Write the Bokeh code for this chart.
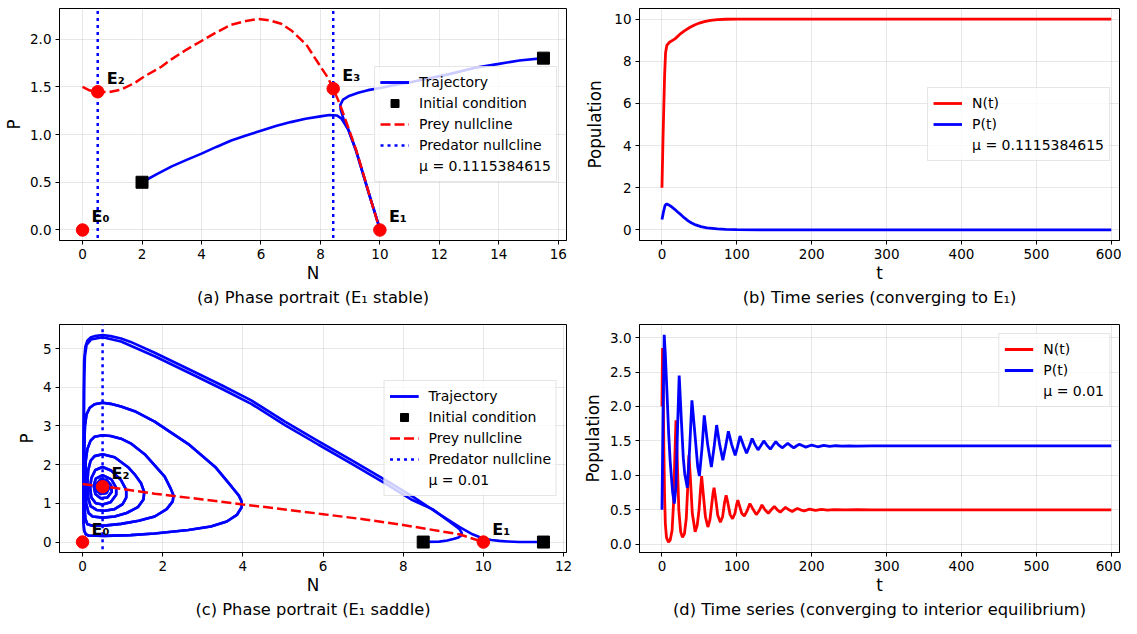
from bokeh.plotting import figure
from bokeh.layouts import row, column
from bokeh.models import Range1d, FixedTicker, Legend, LegendItem, Title, NumeralTickFormatter
from bokeh.core.properties import value
from bokeh.embed import file_html
from bokeh.resources import INLINE

FONT = "DejaVu Sans"
BLUE = "#0000ff"
RED = "#ff0000"

# ---------------- (a) phase portrait, E1 stable ----------------
a_prey_N = [0.0, 0.25, 0.51, 0.9, 1.3, 1.75, 2.09, 2.65, 3.0, 3.5, 4.0, 4.5, 5.0, 5.5, 5.9, 6.3, 6.68,
            7.02, 7.53, 7.86, 8.26, 8.43, 8.65, 8.94, 9.2, 9.44, 9.7, 10.0]
a_prey_P = [1.50, 1.46, 1.448, 1.445, 1.47, 1.54, 1.61, 1.71, 1.79, 1.89, 1.98, 2.07, 2.15, 2.19, 2.21,
            2.195, 2.16, 2.09, 1.94, 1.78, 1.59, 1.48, 1.32, 1.07, 0.84, 0.59, 0.31, 0.0]
a_traj1_N = [2.0, 2.5, 3.0, 3.5, 4.0, 4.5, 5.0, 5.5, 6.0, 6.5, 7.0, 7.5, 8.0, 8.3, 8.55, 8.7, 8.8, 8.94,
             9.2, 9.44, 9.7, 10.0]
a_traj1_P = [0.5, 0.585, 0.667, 0.735, 0.80, 0.87, 0.937, 0.99, 1.04, 1.09, 1.13, 1.165, 1.19, 1.205, 1.2,
             1.17, 1.12, 1.05, 0.83, 0.58, 0.31, 0.01]
a_traj2_N = [15.5, 14.69, 14.0, 13.2, 12.3, 11.5, 11.07, 10.5, 10.06, 9.6, 9.27, 8.94, 8.76, 8.67, 8.68,
             8.8, 8.94, 9.2, 9.44, 9.7, 10.0]
a_traj2_P = [1.8, 1.776, 1.74, 1.70, 1.63, 1.58, 1.55, 1.52, 1.49, 1.465, 1.437, 1.40, 1.366, 1.31, 1.26,
             1.14, 1.05, 0.83, 0.58, 0.31, 0.01]
a_init_N = [2.0, 15.5]
a_init_P = [0.5, 1.8]
a_pred_null_N = [0.51, 8.43]
a_eq_N = [0.0, 10.0, 0.51, 8.43]
a_eq_P = [0.0, 0.0, 1.448, 1.48]
a_eq_lab = ["E₀", "E₁", "E₂", "E₃"]
a_mu = "μ = 0.1115384615"

# ---------------- (b) time series, converging to E1 ----------------
b_tN = [0, 1.3, 3.5, 4.8, 6.5, 10, 17.4, 24, 30.5, 37, 43.5, 50, 56.6, 65, 74, 85, 100, 600]
b_N = [2.0, 4.2, 7.3, 8.4, 8.75, 8.9, 9.06, 9.28, 9.45, 9.6, 9.72, 9.81, 9.88, 9.94, 9.97, 9.99, 10.0, 10.0]
b_tP = [0, 2, 4, 5.5, 7, 10, 13, 17, 21, 26, 30, 35, 39, 45, 52, 60, 74, 85, 100, 130, 600]
b_P = [0.5, 0.85, 1.15, 1.22, 1.22, 1.17, 1.09, 0.98, 0.85, 0.70, 0.57, 0.43, 0.34, 0.24, 0.16, 0.10,
       0.05, 0.03, 0.015, 0.005, 0.0]

# ---------------- (c) phase portrait, E1 saddle ----------------
c_traj1_N = [11.5, 11.2, 10.89, 10.6, 10.4, 10.2, 10.07, 9.9, 9.73, 9.4, 8.9, 8.23, 7.56, 6.72, 5.88, 5.05,
             4.21, 3.47, 2.64, 1.8, 1.2, 0.96, 0.7, 0.5, 0.3, 0.21, 0.12, 0.07, 0.04, 0.03, 0.025, 0.02,
             0.02, 0.025, 0.04, 0.08, 0.15, 0.54, 1.2, 1.8, 2.64, 3.2, 3.6, 3.85, 3.97, 3.97, 3.9, 3.72,
             3.31, 2.64, 1.8, 1.3, 0.96, 0.7, 0.5, 0.3, 0.18, 0.1, 0.06, 0.04, 0.04, 0.05, 0.07, 0.12,
             0.25, 0.6, 0.96, 1.4, 1.8, 2.1, 2.25, 2.27, 2.2, 2.05, 1.8, 1.55, 1.2, 0.96, 0.7, 0.5, 0.3,
             0.2, 0.12, 0.08, 0.07, 0.09, 0.15, 0.25, 0.5, 0.8, 1.1, 1.38, 1.52, 1.54, 1.46, 1.3, 1.13,
             0.8, 0.5, 0.3, 0.2, 0.14, 0.12, 0.14, 0.2, 0.35, 0.55, 0.8, 1.0, 1.09, 1.09, 0.96, 0.71, 0.5,
             0.32, 0.22, 0.19, 0.22, 0.33, 0.5, 0.7, 0.84, 0.84, 0.72, 0.5, 0.33, 0.28, 0.32, 0.45, 0.62,
             0.73, 0.71, 0.6, 0.45, 0.35, 0.35, 0.45, 0.6, 0.66, 0.58, 0.47, 0.41, 0.46, 0.57, 0.6, 0.52,
             0.46, 0.5, 0.54, 0.5]
c_traj1_P = [0.0, 0.0, 0.003, 0.015, 0.03, 0.055, 0.08, 0.13, 0.2, 0.39, 0.72, 1.18, 1.60, 2.11, 2.61, 3.11,
             3.66, 4.05, 4.47, 4.89, 5.17, 5.26, 5.32, 5.35, 5.32, 5.29, 5.2, 5.05, 4.7, 4.0, 3.0, 2.0,
             1.0, 0.5, 0.3, 0.2, 0.17, 0.16, 0.18, 0.22, 0.31, 0.4, 0.53, 0.7, 0.9, 1.05, 1.2, 1.43, 1.94,
             2.53, 3.11, 3.38, 3.5, 3.57, 3.6, 3.56, 3.47, 3.3, 3.0, 2.27, 1.5, 0.9, 0.6, 0.46, 0.42,
             0.43, 0.47, 0.55, 0.66, 0.85, 1.05, 1.2, 1.38, 1.69, 1.98, 2.27, 2.55, 2.67, 2.74, 2.76,
             2.72, 2.62, 2.4, 2.1, 1.5, 1.0, 0.75, 0.66, 0.63, 0.66, 0.75, 0.9, 1.1, 1.29, 1.52, 1.75,
             1.94, 2.19, 2.27, 2.22, 2.1, 1.85, 1.5, 1.15, 0.93, 0.83, 0.81, 0.85, 0.98, 1.15, 1.35, 1.6,
             1.85, 1.94, 1.86, 1.65, 1.4, 1.15, 1.0, 0.97, 1.03, 1.22, 1.4, 1.62, 1.73, 1.64, 1.45, 1.24,
             1.13, 1.15, 1.3, 1.47, 1.6, 1.62, 1.5, 1.33, 1.24, 1.27, 1.4, 1.52, 1.53, 1.43, 1.34, 1.36,
             1.43, 1.49, 1.45, 1.4, 1.43, 1.43]
c_traj2_N = [8.5, 8.9, 9.1, 9.25, 9.38, 9.45, 9.46, 9.4, 9.15, 8.73, 8.2, 7.56, 6.72, 5.88, 5.05, 4.21,
             3.47, 2.64, 1.8, 0.96, 0.5, 0.21, 0.1, 0.06, 0.045, 0.035]
c_traj2_P = [0.0, 0.01, 0.04, 0.08, 0.12, 0.17, 0.24, 0.34, 0.53, 0.85, 1.10, 1.51, 2.02, 2.52, 3.02,
             3.57, 3.96, 4.38, 4.80, 5.18, 5.29, 5.23, 5.09, 4.8, 4.3, 3.0]
c_prey_N = [0.0, 0.5, 1.0, 1.8, 3.0, 4.0, 5.0, 6.0, 7.0, 8.0, 9.4, 10.0]
c_prey_P = [1.5, 1.44, 1.37, 1.25, 1.1, 0.97, 0.85, 0.72, 0.59, 0.44, 0.2, 0.0]
c_init_N = [8.5, 11.5]
c_init_P = [0.0, 0.0]
c_pred_null_N = [0.5]
c_eq_N = [0.0, 10.0, 0.5]
c_eq_P = [0.0, 0.0, 1.43]
c_eq_lab = ["E₀", "E₁", "E₂"]
c_mu = "μ = 0.01"

# ---------------- (d) time series, interior equilibrium ----------------
d_tN = [0, 0.4, 0.8, 1.5, 2.5, 3.5, 4.5, 6, 8.7, 11, 13.5, 15.5, 17, 18.7, 20.5, 22.5, 25, 27.4, 30, 32.5,
        34.5, 36, 38, 40.5, 44.3, 47, 49.5, 51.5, 53, 55, 58, 61.3, 64, 66.5, 68.3, 69.6, 71.5, 74.5, 78,
        81, 83.5, 85.7, 88, 91, 94.3, 97.5, 99.8, 101.3, 103.5, 106.5, 110, 113.5, 117.4, 121, 126, 130,
        133.5, 137.5, 142, 146, 150, 154, 158, 161.5, 165, 169.5, 174, 177.5, 181, 185, 190, 197, 205,
        213, 221, 230, 245, 260, 280, 600]
d_N = [2.0, 2.5, 2.85, 2.4, 1.4, 0.7, 0.3, 0.1, 0.03, 0.06, 0.2, 0.6, 1.2, 1.8, 1.2, 0.5, 0.18, 0.1, 0.15,
       0.38, 0.85, 1.29, 0.95, 0.45, 0.18, 0.27, 0.5, 0.8, 0.99, 0.75, 0.4, 0.25, 0.35, 0.58, 0.75, 0.82,
       0.68, 0.42, 0.32, 0.4, 0.6, 0.71, 0.6, 0.43, 0.37, 0.45, 0.58, 0.64, 0.56, 0.45, 0.41, 0.48, 0.59,
       0.52, 0.43, 0.49, 0.57, 0.5, 0.45, 0.5, 0.55, 0.5, 0.465, 0.5, 0.535, 0.5, 0.475, 0.5, 0.52, 0.5,
       0.485, 0.51, 0.492, 0.506, 0.496, 0.503, 0.499, 0.501, 0.5, 0.5]
d_tP = [0, 1.5, 3.0, 4.5, 6.5, 9, 11, 14.3, 16.5, 18.7, 20.4, 23, 26, 28.5, 30.4, 33.9, 37, 40, 44.8, 47.8,
        50, 53.5, 56.5, 61, 66, 69.5, 73, 77, 81.3, 85, 88.7, 93, 97.8, 101, 104.3, 109, 113, 117, 120.4,
        124, 128.3, 132, 136, 140, 144.8, 148, 152, 156, 161, 164, 168, 172, 176, 180, 183.5, 188, 192,
        200, 208, 216, 224, 232, 240, 250, 260, 280, 300, 600]
d_P = [0.5, 1.9, 3.04, 2.75, 2.25, 1.6, 1.2, 0.75, 0.59, 0.84, 1.54, 2.45, 1.78, 1.25, 1.02, 0.82, 1.40,
       2.09, 1.50, 1.12, 0.99, 1.40, 1.87, 1.45, 1.12, 1.40, 1.73, 1.45, 1.22, 1.42, 1.64, 1.45, 1.29, 1.42,
       1.57, 1.43, 1.32, 1.43, 1.535, 1.45, 1.37, 1.43, 1.50, 1.44, 1.38, 1.43, 1.49, 1.44, 1.40, 1.43,
       1.465, 1.43, 1.40, 1.43, 1.45, 1.43, 1.41, 1.44, 1.415, 1.435, 1.42, 1.43, 1.425, 1.428, 1.425,
       1.427, 1.427, 1.427]

captions = ["(a) Phase portrait (E₁ stable)",
            "(b) Time series (converging to E₁)",
            "(c) Phase portrait (E₁ saddle)",
            "(d) Time series (converging to interior equilibrium)"]


def make_fig(xr, yr, width, height, left, right, top, bottom):
    p = figure(width=width, height=height, x_range=Range1d(*xr), y_range=Range1d(*yr),
               output_backend="svg", toolbar_location=None,
               min_border_left=left, min_border_right=right,
               min_border_top=top, min_border_bottom=bottom)
    p.outline_line_color = "black"
    p.outline_line_width = 1
    p.outline_line_alpha = 1
    p.grid.grid_line_color = "#b0b0b0"
    p.grid.grid_line_alpha = 0.3
    p.grid.grid_line_width = 1
    return p


def style_axes(p, xlabel, ylabel, xticks, yticks, yfmt=None, ylabel_standoff=3):
    p.xaxis.axis_label = xlabel
    p.yaxis.axis_label = ylabel
    p.xaxis.ticker = FixedTicker(ticks=xticks)
    p.yaxis.ticker = FixedTicker(ticks=yticks)
    if yfmt:
        p.yaxis.formatter = NumeralTickFormatter(format=yfmt)
    for ax in (p.xaxis[0], p.yaxis[0]):
        ax.axis_label_text_font = FONT
        ax.axis_label_text_font_size = "16.8px"
        ax.axis_label_text_font_style = "normal"
        ax.axis_label_text_color = "black"
        ax.major_label_text_font = FONT
        ax.major_label_text_font_size = "13.5px"
        ax.major_label_text_color = "black"
        ax.major_tick_out = 4
        ax.major_tick_in = 0
        ax.minor_tick_out = 0
        ax.minor_tick_in = 0
        ax.axis_line_color = "black"
        ax.major_tick_line_color = "black"
        ax.major_label_standoff = 4
    p.xaxis.axis_label_standoff = 1
    p.yaxis.axis_label_standoff = ylabel_standoff


def add_caption(p, text):
    t = Title(text=text, align="center", text_font=FONT, text_font_size="16.3px",
              text_font_style="normal", text_color="black", standoff=0)
    p.add_layout(t, "below")


def add_legend(p, items, location):
    lg = Legend(items=items, location=location, label_text_font=FONT, label_text_font_size="14px",
                label_text_color="black", glyph_width=29, glyph_height=20, label_height=20,
                label_standoff=10, spacing=1, padding=5, margin=9,
                border_line_color="#cccccc", border_line_width=1,
                background_fill_color="white", background_fill_alpha=0.8)
    p.add_layout(lg)


def phase(p, traj_list, prey_N, prey_P, pred_N, init_N, init_P, eq_N, eq_P, eq_lab, mu, yr):
    trs = [p.line(n, pp, line_color=BLUE, line_width=2.6) for n, pp in traj_list]
    prey = p.line(prey_N, prey_P, line_color=RED, line_width=2.5, line_dash="10 4")
    preds = [p.line([x, x], [yr[0] - 1, yr[1] + 1], line_color=BLUE, line_width=2.5,
                    line_dash="3 4") for x in pred_N]
    init = p.scatter(init_N, init_P, marker="square", size=12, fill_color="black", line_color="black")
    p.scatter(eq_N, eq_P, marker="circle", size=12.5, fill_color=RED, line_color=RED)
    p.text(eq_N, eq_P, text=eq_lab, x_offset=9, y_offset=-13, text_baseline="middle",
           text_align="left", text_font=value(FONT), text_font_size="16px",
           text_font_style="bold", text_color="black")
    dummy = p.line(x=[], y=[], line_alpha=0)
    items = [LegendItem(label="Trajectory", renderers=trs),
             LegendItem(label="Initial condition", renderers=[init]),
             LegendItem(label="Prey nullcline", renderers=[prey]),
             LegendItem(label="Predator nullcline", renderers=[preds[0]]),
             LegendItem(label=mu, renderers=[dummy])]
    add_legend(p, items, "center_right")


def series(p, tN, N, tP, P, mu, loc):
    rn = p.line(tN, N, line_color=RED, line_width=2.8)
    rp = p.line(tP, P, line_color=BLUE, line_width=2.8)
    dummy = p.line(x=[], y=[], line_alpha=0)
    items = [LegendItem(label="N(t)", renderers=[rn]),
             LegendItem(label="P(t)", renderers=[rp]),
             LegendItem(label=mu, renderers=[dummy])]
    add_legend(p, items, loc)


# layout sizes
LW, RW = 579, 542
TH, BH = 316, 302

# (a)
a_yr = (-0.11, 2.32)
pa = make_fig((-0.775, 16.275), a_yr, LW, TH, 59, 13, 8, 76)
style_axes(pa, "N", "P", list(range(0, 17, 2)), [0, 0.5, 1.0, 1.5, 2.0], "0.0")
phase(pa, [(a_traj1_N, a_traj1_P), (a_traj2_N, a_traj2_P)], a_prey_N, a_prey_P, a_pred_null_N,
      a_init_N, a_init_P, a_eq_N, a_eq_P, a_eq_lab, a_mu, a_yr)
add_caption(pa, captions[0])

# (b)
pb = make_fig((-30, 611), (-0.5, 10.5), RW, TH, 60, 2, 8, 76)
style_axes(pb, "t", "Population", list(range(0, 601, 100)), [0, 2, 4, 6, 8, 10], None, 6)
series(pb, b_tN, b_N, b_tP, b_P, a_mu, "center_right")
add_caption(pb, captions[1])

# (c)
c_yr = (-0.27, 5.62)
c_N2 = c_traj2_N + c_traj1_N[31:]
c_P2 = c_traj2_P + c_traj1_P[31:]
pc = make_fig((-0.575, 12.075), c_yr, LW, BH, 59, 13, 8, 65)
style_axes(pc, "N", "P", list(range(0, 13, 2)), [0, 1, 2, 3, 4, 5])
phase(pc, [(c_traj1_N, c_traj1_P), (c_N2, c_P2)], c_prey_N, c_prey_P, c_pred_null_N,
      c_init_N, c_init_P, c_eq_N, c_eq_P, c_eq_lab, c_mu, c_yr)
add_caption(pc, captions[2])

# (d)
pd_ = make_fig((-30, 611), (-0.12, 3.19), RW, BH, 60, 2, 8, 65)
style_axes(pd_, "t", "Population", list(range(0, 601, 100)), [0, 0.5, 1.0, 1.5, 2.0, 2.5, 3.0], "0.0", 4)
series(pd_, d_tN, d_N, d_tP, d_P, c_mu, "top_right")
add_caption(pd_, captions[3])

layout = column(row(pa, pb), row(pc, pd_))
open("out.html", "w").write(file_html(layout, INLINE))
